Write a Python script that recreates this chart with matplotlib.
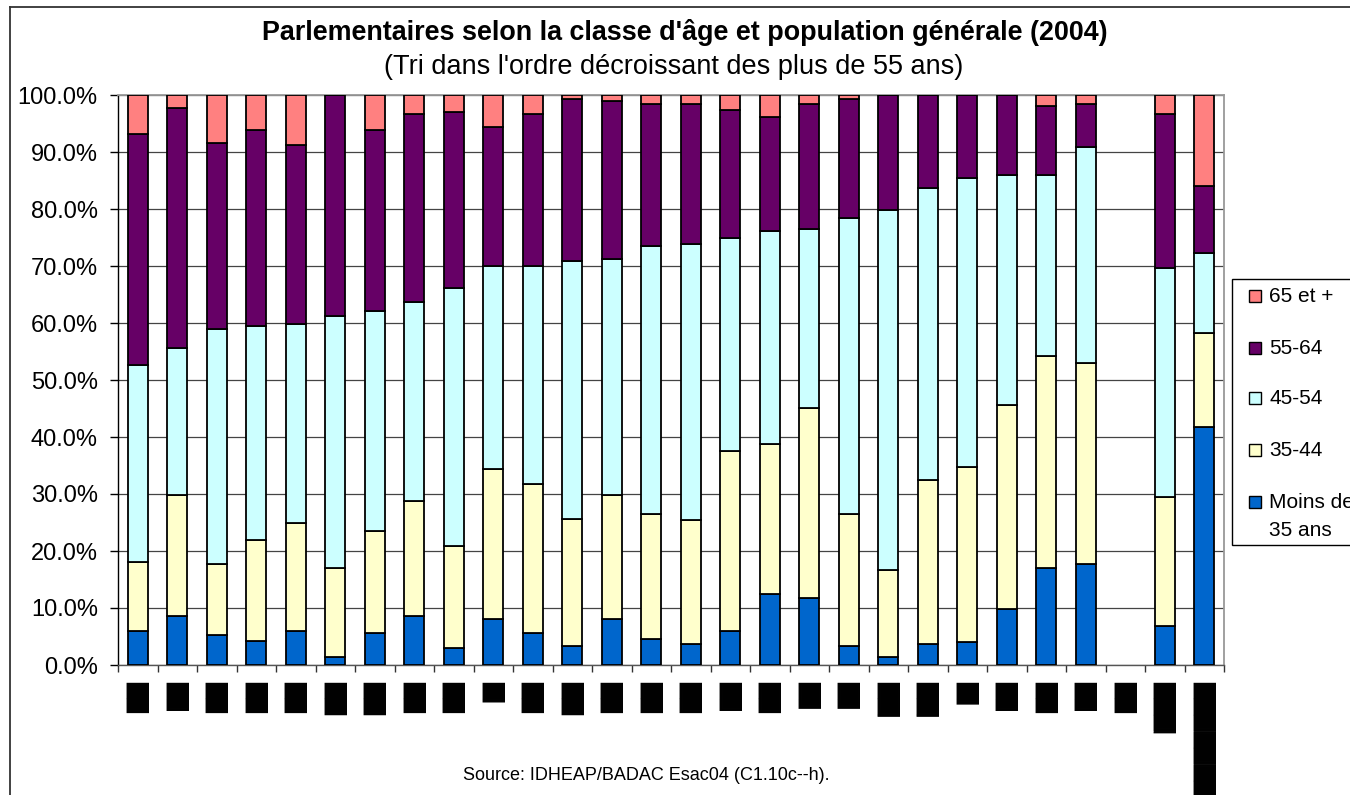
import matplotlib
matplotlib.use('Agg')
import matplotlib.pyplot as plt
import numpy as np
from matplotlib.patches import Rectangle
from matplotlib.ticker import FuncFormatter, FixedLocator

nan = np.nan

# Category labels (rendered as solid glyph blocks in the reference)
categories = ['█▉', '█▊', '█▉', '█▉', '█▉', '██', '██', '█▉', '█▉', '█▎',
              '█▉', '██', '█▉', '█▉', '█▉', '█▊', '█▉', '█▋', '█▋', '██▏',
              '██▏', '█▍', '█▊', '█▉', '█▊', '█▉', '███▏', '█████████']

series_names = ['Moins de\n35 ans', '35-44', '45-54', '55-64', '65 et +']

moins35 = [6.0, 8.6, 5.3, 4.2, 6.0, 1.4, 5.7, 8.6, 3.0, 8.0,
           5.7, 3.4, 8.0, 4.6, 3.7, 6.0, 12.4, 11.7, 3.4, 1.4,
           3.7, 4.1, 9.8, 17.0, 17.8, nan, 6.8, 41.7]
a35_44 = [12.0, 21.3, 12.5, 17.7, 18.9, 15.6, 17.8, 20.1, 17.9, 26.4,
          26.0, 22.3, 21.9, 21.9, 21.7, 31.5, 26.3, 33.4, 23.1, 15.3,
          28.8, 30.7, 35.9, 37.2, 35.2, nan, 22.7, 16.6]
a45_54 = [34.7, 25.7, 41.2, 37.5, 34.9, 44.3, 38.6, 34.9, 45.3, 35.6,
          38.3, 45.1, 41.3, 47.0, 48.4, 37.5, 37.4, 31.4, 51.9, 63.2,
          51.2, 50.7, 40.3, 31.8, 37.9, nan, 40.1, 14.0]
a55_64 = [40.5, 42.2, 32.6, 34.5, 31.5, 38.7, 31.8, 33.0, 30.8, 24.3,
          26.6, 28.5, 27.7, 25.0, 24.7, 22.4, 20.1, 22.0, 20.9, 20.1,
          16.3, 14.5, 14.0, 12.1, 7.6, nan, 27.0, 11.8]
a65plus = [6.8, 2.2, 8.4, 6.1, 8.7, 0.0, 6.1, 3.4, 3.0, 5.7,
           3.4, 0.7, 1.1, 1.5, 1.5, 2.6, 3.8, 1.5, 0.7, 0.0,
           0.0, 0.0, 0.0, 1.9, 1.5, nan, 3.4, 15.9]

colors = ['#0066CC', '#FFFFCC', '#CCFFFF', '#660066', '#FF8080']

W, H = 1350, 795
fig = plt.figure(figsize=(W / 100, H / 100), dpi=100)
fig.patch.set_facecolor('white')

L, R, T, B = 118, 1224, 95, 665
ax = fig.add_axes([L / W, 1 - B / H, (R - L) / W, (B - T) / H])

x = np.arange(len(categories))
series = [moins35, a35_44, a45_54, a55_64, a65plus]
bottom = np.zeros(len(categories))
for vals, col in zip(series, colors):
    v = np.array(vals, dtype=float) / 100.0
    ax.bar(x, v, 0.5, bottom=bottom, color=col, edgecolor='black',
           linewidth=1.3, zorder=3)
    bottom = bottom + np.nan_to_num(v)

ax.set_xlim(-0.5, len(categories) - 0.5)
ax.set_ylim(0, 1)
ax.set_yticks(np.arange(0, 1.01, 0.1))
ax.yaxis.set_major_formatter(FuncFormatter(lambda v, p: f'{v * 100:.1f}%'))
ax.grid(axis='y', color='#444444', linewidth=0.9, zorder=0)
ax.set_axisbelow(True)

ax.set_xticks(x)
ax.set_xticklabels(categories, rotation=270, fontfamily='DejaVu Sans',
                   fontsize=15.5, color='black')
ax.tick_params(axis='x', which='major', length=0, pad=11.5)
ax.xaxis.set_minor_locator(FixedLocator(np.arange(-0.5, len(categories), 1.0)))
ax.tick_params(axis='x', which='minor', length=5, width=1, color='#333333',
               direction='out')
ax.tick_params(axis='y', length=5.5, width=1, color='black', pad=9,
               labelsize=17, labelfontfamily='Liberation Sans')

ax.spines['left'].set_color('black')
ax.spines['left'].set_linewidth(1.0)
ax.spines['bottom'].set_color('#555555')
ax.spines['bottom'].set_linewidth(1.0)
for s in ('top', 'right'):
    ax.spines[s].set_color('#999999')
    ax.spines[s].set_linewidth(1.3)

# Overlay in pixel coordinates for frame, titles, legend
ov = fig.add_axes([0, 0, 1, 1], zorder=10)
ov.set_xlim(0, W)
ov.set_ylim(H, 0)
ov.axis('off')
ov.patch.set_alpha(0)

ov.plot([10, W + 5], [7, 7], color='#333333', lw=1.3, clip_on=False)
ov.plot([10, 10], [7, H + 5], color='#333333', lw=1.3, clip_on=False)

ov.text(685, 32, "Parlementaires selon la classe d'âge et population générale (2004)",
        ha='center', va='center', fontsize=19.4, fontweight='bold',
        family='Liberation Sans')
ov.text(674, 67, "(Tri dans l'ordre décroissant des plus de 55 ans)",
        ha='center', va='center', fontsize=19.5, family='Liberation Sans')
ov.text(646, 775, "Source: IDHEAP/BADAC Esac04 (C1.10c--h).",
        ha='center', va='center', fontsize=13, family='Liberation Sans')

# Legend
ov.add_patch(Rectangle((1232, 279), 200, 266, facecolor='white',
                       edgecolor='black', lw=1.0, clip_on=False))
leg_y = [502, 450, 398, 348, 296]
for name, col, yy in zip(series_names, colors, leg_y):
    ov.add_patch(Rectangle((1249, yy - 6), 12, 12, facecolor=col,
                           edgecolor='black', lw=1.0))
    first, *rest = name.split('\n')
    ov.text(1269, yy, first, ha='left', va='center', fontsize=15,
            family='Liberation Sans')
    for k, line in enumerate(rest):
        ov.text(1269, yy + 29 * (k + 1), line, ha='left', va='center',
                fontsize=15, family='Liberation Sans')

fig.savefig('out.png', dpi=100)
